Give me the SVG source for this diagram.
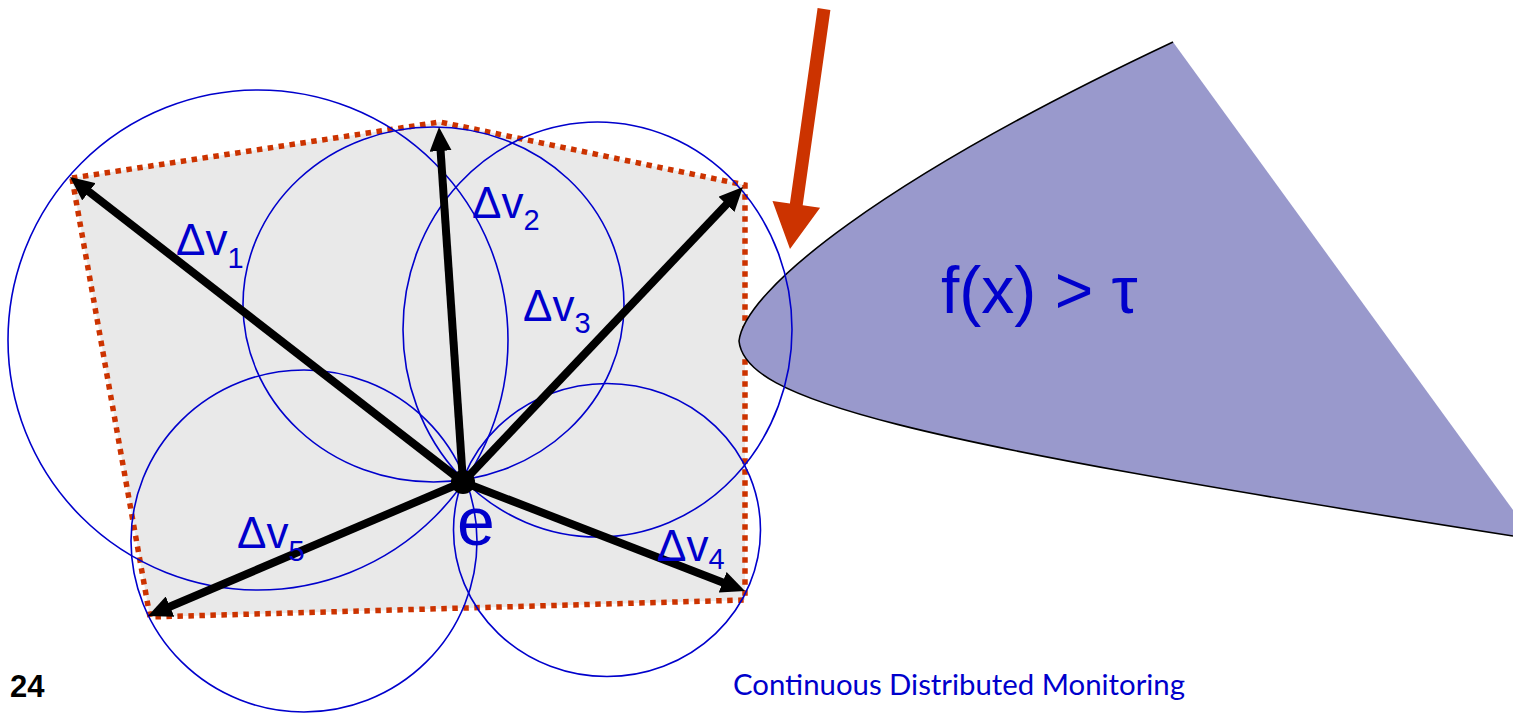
<svg xmlns="http://www.w3.org/2000/svg" width="1513" height="713" viewBox="0 0 1513 713">
<style>
.lbl{font-family:"Liberation Sans",Arial,sans-serif;fill:#0000CC;font-size:44px}
.sub{font-size:29px}
.big{font-size:68px}
.circ{fill:none;stroke:#0000CC;stroke-width:1.6}
.vec{stroke:#000;stroke-width:8;fill:none;marker-end:url(#ah)}
</style>
<defs>
<marker id="ah" viewBox="0 0 24 22" refX="12" refY="11" markerWidth="24" markerHeight="22" markerUnits="userSpaceOnUse" orient="auto">
<path d="M0,0 L24,11 L0,22 Z" fill="#000"/>
</marker>
</defs>
<rect width="1513" height="713" fill="#fff"/>
<g id="hull">
<polygon points="72,178 440,122 745,185 745,600 150,617" fill="#E9E9E9" stroke="#CC3300" stroke-width="5.5" stroke-dasharray="5.5 5.5"/>
</g>
<g id="region">
<path d="M739,341 C745,290 880,180 1173,42 L1513,510 L1513,536 C900,440 745,400 739,341 Z" fill="#9999CC"/>
<path d="M1173,42 C880,180 745,290 739,341 C745,400 900,440 1513,536" fill="none" stroke="#000" stroke-width="1.6"/>
<text x="941" y="313" font-family="Liberation Sans, Arial, sans-serif" font-size="66" fill="#0000CC">f(x) &gt; τ</text>
</g>
<g id="circles">
<circle id="c1" class="circ" cx="258" cy="340" r="250"/>
<ellipse id="c2" class="circ" cx="433.5" cy="304.5" rx="190.5" ry="177.5"/>
<ellipse id="c3" class="circ" cx="597.5" cy="329.5" rx="194.5" ry="207.5"/>
<ellipse id="c4" class="circ" cx="607" cy="530" rx="153.5" ry="146.5"/>
<ellipse id="c5" class="circ" cx="304" cy="541" rx="173" ry="171"/>
</g>
<g id="connectors">
<line class="vec" x1="463" y1="482" x2="79.5" y2="184.4"/>
<line class="vec" x1="463" y1="482" x2="439.8" y2="139"/>
<line class="vec" x1="463" y1="482" x2="734.7" y2="195.7"/>
<line class="vec" x1="463" y1="482" x2="733.8" y2="586.7"/>
<line class="vec" x1="463" y1="482" x2="159" y2="611.3"/>
</g>
<g id="e">
<circle cx="463" cy="482" r="12" fill="#000"/>
<text class="lbl big" x="457" y="545">e</text>
</g>
<g id="labels">
<text class="lbl" x="176" y="255">Δv<tspan class="sub" dy="13">1</tspan></text>
<text class="lbl" x="472" y="218">Δv<tspan class="sub" dy="12">2</tspan></text>
<text class="lbl" x="523" y="321">Δv<tspan class="sub" dy="12">3</tspan></text>
<text class="lbl" x="657" y="561">Δv<tspan class="sub" dy="8">4</tspan></text>
<text class="lbl" x="237" y="548">Δv<tspan class="sub" dy="13">5</tspan></text>
</g>
<g id="pointer">
<polygon points="817.6,8.1 830.4,9.9 802.7,205.3 820.1,207.8 790,249 772.5,201 789.9,203.5" fill="#CC3300"/>
</g>
<g id="footer">
<text x="10" y="697" font-family="Liberation Sans, Arial, sans-serif" font-weight="bold" font-size="31" fill="#000">24</text>
<text x="733" y="695" font-family="Lato, 'Open Sans', sans-serif" font-size="28" fill="#0000CC" textLength="452" lengthAdjust="spacingAndGlyphs">Continuous Distributed Monitoring</text>
</g>
</svg>
